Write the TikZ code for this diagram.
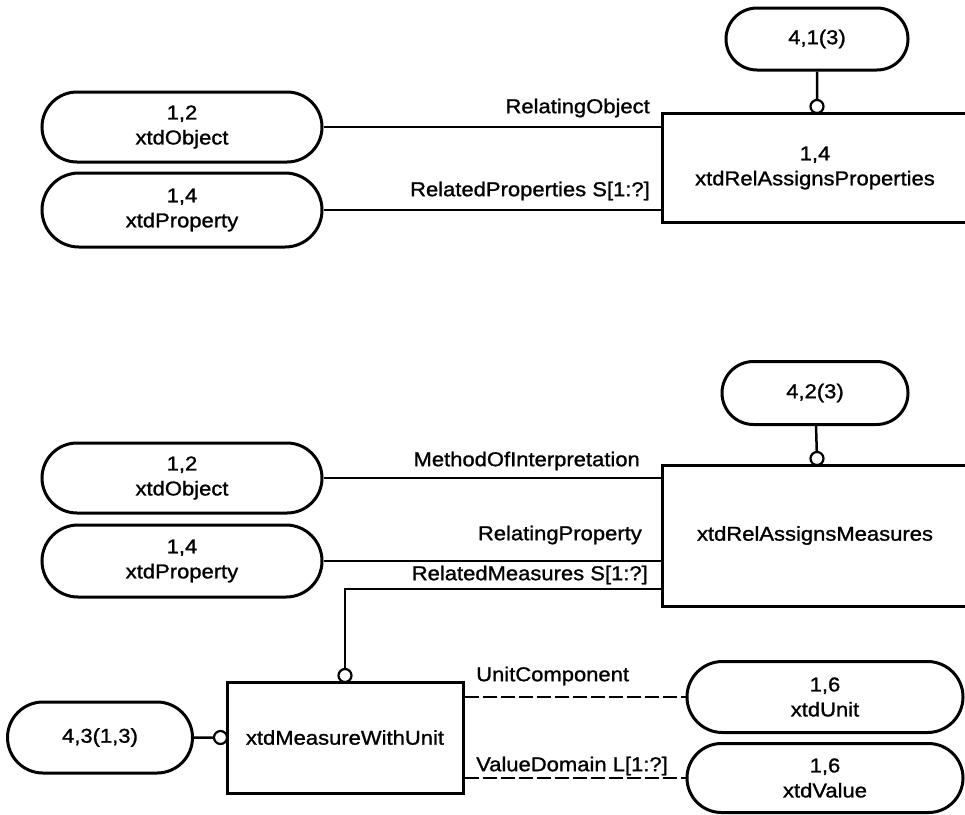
\documentclass[tikz,border=0pt]{standalone}
\usepackage{fontspec}
\setmainfont{Liberation Sans}[FakeStretch=1.1, FakeBold=1.2]
\usetikzlibrary{shapes.misc}
\begin{document}
\begin{tikzpicture}[x=1pt,y=-1pt,
  every node/.style={font=\fontsize{20}{25}\selectfont, inner sep=0pt},
  entity/.style={draw, line width=3pt, rounded rectangle, minimum width=280pt, minimum height=70pt, align=center},
  relbox/.style={draw, line width=3pt, rectangle, align=center},
  lbl/.style={anchor=east},
  link/.style={line width=2.5pt},
  dlink/.style={line width=2pt, dash pattern=on 14pt off 4pt},
  ring/.style={circle, draw, line width=2.2pt, minimum size=13pt, fill=white}
]
\clip (0,0) rectangle (965,814);

% ---- xtdRelAssignsProperties ----
\node[entity] (obj1) at (182,127) {1,2\\xtdObject};
\node[entity, minimum height=74pt] (prop1) at (182,210) {1,4\\xtdProperty};
\node[entity, minimum width=182pt, minimum height=62pt] (t41) at (817,39) {4,1(3)};
\node[relbox, minimum width=306pt, minimum height=109pt] (rap) at (815,168) {1,4\\xtdRelAssignsProperties};
\node[ring] (c1) at (817,106.5) {};
\draw[link] (t41) -- (c1);
\draw[link] (obj1.east) -- (obj1.east -| rap.west);
\draw[link] (prop1.east) -- (prop1.east -| rap.west);
\node[lbl] (l1) at (650,108) {RelatingObject};
\node[lbl] (l2) at (650,191) {RelatedProperties S[1:?]};

% ---- xtdRelAssignsMeasures ----
\node[entity, minimum width=186pt, minimum height=63pt] (t42) at (815,393) {4,2(3)};
\node[relbox, minimum width=306pt, minimum height=141pt] (ram) at (815,535.5) {xtdRelAssignsMeasures};
\node[ring] (c2) at (817,458.5) {};
\draw[link] (t42) -- (c2);
\node[entity] (obj2) at (182,478) {1,2\\xtdObject};
\node[entity, minimum height=72pt] (prop2) at (182,561) {1,4\\xtdProperty};
\draw[link] (obj2.east) -- (obj2.east -| ram.west);
\draw[link] (prop2.east) -- (prop2.east -| ram.west);
\node[lbl] (l3) at (640,461) {MethodOfInterpretation};
\node[lbl] (l4) at (642,535) {RelatingProperty};
\node[lbl] (l5) at (648,575) {RelatedMeasures S[1:?]};

% ---- xtdMeasureWithUnit ----
\node[relbox, minimum width=236pt, minimum height=111pt] (mwu) at (345,737.5) {xtdMeasureWithUnit};
\node[ring] (c3) at (345,675.5) {};
\coordinate (bend) at (345,589);
\draw[link] (ram.west |- bend) -- (bend) -- (c3);
\node[entity, minimum width=185pt, minimum height=71pt] (t43) at (100,737.5) {4,3(1,3)};
\node[ring] (c4) at (220.5,737.5) {};
\draw[link] (t43) -- (c4);
\node[entity, minimum width=276pt, minimum height=71pt] (unit) at (825,697) {1,6\\xtdUnit};
\node[entity, minimum width=276pt, minimum height=69pt] (val) at (825,778) {1,6\\xtdValue};
\draw[dlink] (mwu.east |- unit.west) -- (unit.west);
\draw[dlink] (mwu.east |- val.west) -- (val.west);
\node[anchor=west] (l6) at (476,676) {UnitComponent};
\node[anchor=west] (l7) at (476,766) {ValueDomain L[1:?]};
\end{tikzpicture}
\end{document}
